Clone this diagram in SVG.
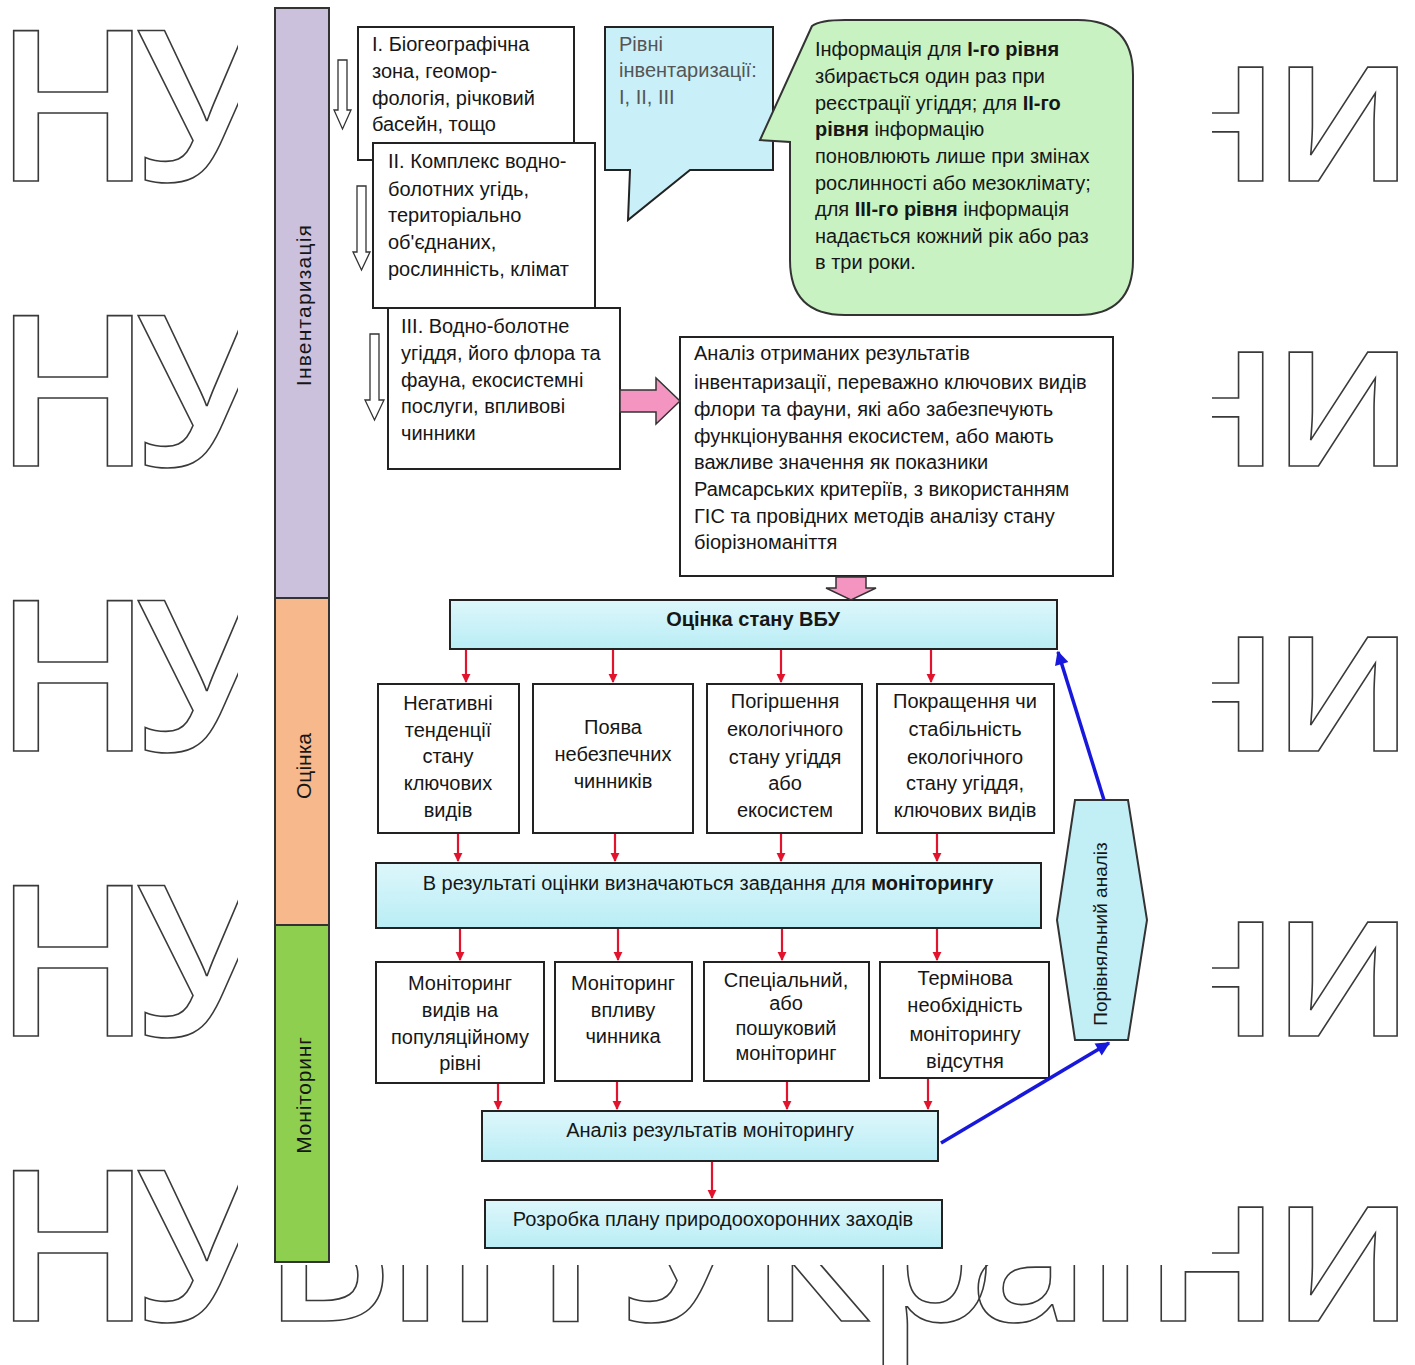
<svg xmlns="http://www.w3.org/2000/svg" width="1415" height="1365" viewBox="0 0 1415 1365">
<defs>
<style>
.wm{font-family:"Open Sans","DejaVu Sans",sans-serif;font-size:210px;font-weight:600;fill:none;stroke:#3a3a3a;stroke-width:1.6}
.box{fill:#fff;stroke:#222;stroke-width:2}
.cy{fill:url(#cyan);stroke:#222;stroke-width:2}
.t{font-family:"Liberation Sans",Arial,sans-serif;font-size:20px;fill:#161616}
.c{text-anchor:middle}
.b{font-weight:bold}
.red{stroke:#e2132c;stroke-width:2.2;fill:none;marker-end:url(#ra)}
.blue{stroke:#1818dc;stroke-width:3.5;fill:none;marker-end:url(#ba)}
.hol{fill:#fff;stroke:#333;stroke-width:1.3}
.pink{fill:#f494c0;stroke:#333;stroke-width:1.5}
</style>
<linearGradient id="cyan" x1="0" y1="0" x2="0" y2="1">
<stop offset="0" stop-color="#ddf7fb"/><stop offset="1" stop-color="#b9edf5"/>
</linearGradient>
<marker id="ra" viewBox="0 0 10 10" refX="9" refY="5" markerWidth="9" markerHeight="10" markerUnits="userSpaceOnUse" orient="auto">
<path d="M0,0 L10,5 L0,10 z" fill="#e2132c"/>
</marker>
<marker id="ba" viewBox="0 0 10 10" refX="9" refY="5" markerWidth="16" markerHeight="14" markerUnits="userSpaceOnUse" orient="auto">
<path d="M0,0 L10,5 L0,10 z" fill="#1818dc"/>
</marker>
</defs>
<rect width="1415" height="1365" fill="#fff"/>
<g id="watermark">
<text class="wm" x="-6 136" y="181">НУ</text>
<text class="wm" x="1144 1272" y="181">ни</text>
<text class="wm" x="-6 136" y="466">НУ</text>
<text class="wm" x="1144 1272" y="466">ни</text>
<text class="wm" x="-6 136" y="751">НУ</text>
<text class="wm" x="1144 1272" y="751">ни</text>
<text class="wm" x="-6 136" y="1036">НУ</text>
<text class="wm" x="1144 1272" y="1036">ни</text>
<text class="wm" x="-6 136 262 386 443 620 751 866 969 1086 1144 1272" y="1321">НУБіПУкраїни</text>
</g>
<rect x="238" y="0" width="974" height="1265" fill="#fff"/>

<g id="stage-bar">
<rect x="275" y="8" width="54" height="590" fill="#cbc1dd" stroke="#333" stroke-width="2"/>
<rect x="275" y="598" width="54" height="327" fill="#f7b88b" stroke="#333" stroke-width="2"/>
<rect x="275" y="925" width="54" height="337" fill="#8fcf50" stroke="#333" stroke-width="2"/>
<text class="t c" style="font-size:21px;letter-spacing:1.2px" transform="translate(303,305) rotate(-90)" dominant-baseline="central">Інвентаризація</text>
<text class="t c" style="font-size:21px" transform="translate(303,766) rotate(-90)" dominant-baseline="central">Оцінка</text>
<text class="t c" style="font-size:21px;letter-spacing:0.8px" transform="translate(303,1095) rotate(-90)" dominant-baseline="central">Моніторинг</text>
</g>

<g id="level-arrows">
<path class="hol" d="M338,60 H347 V110 H351 L342.5,129 L334,110 H338 Z"/>
<path class="hol" d="M357,186 H366 V252 H370 L361.5,270 L353,252 H357 Z"/>
<path class="hol" d="M370,334 H379 V400 H384 L374.5,420 L365,400 H370 Z"/>
</g>

<g id="level1">
<rect class="box" x="358" y="27" width="216" height="133"/>
<text class="t"><tspan x="372" y="51">І. Біогеографічна</tspan><tspan x="372" y="78">зона, геомор-</tspan><tspan x="372" y="105">фологія, річковий</tspan><tspan x="372" y="131">басейн, тощо</tspan></text>
</g>
<g id="level2">
<rect class="box" x="373" y="143" width="222" height="165"/>
<text class="t"><tspan x="388" y="168">ІІ. Комплекс водно-</tspan><tspan x="388" y="196">болотних угідь,</tspan><tspan x="388" y="222">територіально</tspan><tspan x="388" y="249">об'єднаних,</tspan><tspan x="388" y="276">рослинність, клімат</tspan></text>
</g>
<g id="level3">
<rect class="box" x="388" y="308" width="232" height="161"/>
<text class="t"><tspan x="401" y="333">ІІІ. Водно-болотне</tspan><tspan x="401" y="360">угіддя, його флора та</tspan><tspan x="401" y="387">фауна, екосистемні</tspan><tspan x="401" y="413">послуги, впливові</tspan><tspan x="401" y="440">чинники</tspan></text>
</g>

<g id="levels-callout">
<path d="M605,27 H773 V170 H690 L628,220 L630,170 H605 Z" fill="#c9f0f8" stroke="#222" stroke-width="2"/>
<text class="t" style="fill:#555"><tspan x="619" y="51">Рівні</tspan><tspan x="619" y="77">інвентаризації:</tspan><tspan x="619" y="104">І, ІІ, ІІІ</tspan></text>
</g>

<g id="info-bubble">
<path d="M845,20 H1078 Q1133,20 1133,75 V260 Q1133,315 1078,315 H845 Q790,315 790,260 V142 L760,140 L812,26 Q820,20 845,20 Z" fill="#c8f2c2" stroke="#333" stroke-width="2"/>
<text class="t"><tspan x="815" y="56">Інформація для <tspan class="b">І-го рівня</tspan></tspan><tspan x="815" y="83">збирається один раз при</tspan><tspan x="815" y="110">реєстрації угіддя; для <tspan class="b">ІІ-го</tspan></tspan><tspan x="815" y="136" class="b">рівня</tspan><tspan> інформацію</tspan><tspan x="815" y="163">поновлюють лише при змінах</tspan><tspan x="815" y="190">рослинності або мезоклімату;</tspan><tspan x="815" y="216">для <tspan class="b">ІІІ-го рівня</tspan> інформація</tspan><tspan x="815" y="243">надається кожний рік або раз</tspan><tspan x="815" y="269">в три роки.</tspan></text>
</g>

<g id="analysis-inventory">
<rect class="box" x="680" y="337" width="433" height="239"/>
<text class="t"><tspan x="694" y="360">Аналіз отриманих результатів</tspan><tspan x="694" y="389">інвентаризації, переважно ключових видів</tspan><tspan x="694" y="416">флори та фауни, які або забезпечують</tspan><tspan x="694" y="443">функціонування екосистем, або мають</tspan><tspan x="694" y="469">важливе значення як показники</tspan><tspan x="694" y="496">Рамсарських критеріїв, з використанням</tspan><tspan x="694" y="523">ГІС та провідних методів аналізу стану</tspan><tspan x="694" y="549">біорізноманіття</tspan></text>
</g>

<g id="assessment">
<rect class="cy" x="450" y="600" width="607" height="49"/>
<text class="t b c" x="753" y="626">Оцінка стану ВБУ</text>
</g>

<g id="a-negative">
<rect class="box" x="378" y="684" width="141" height="149"/>
<text class="t c"><tspan x="448" y="710">Негативні</tspan><tspan x="448" y="737">тенденції</tspan><tspan x="448" y="763">стану</tspan><tspan x="448" y="790">ключових</tspan><tspan x="448" y="817">видів</tspan></text>
</g>
<g id="a-danger">
<rect class="box" x="533" y="684" width="160" height="149"/>
<text class="t c"><tspan x="613" y="734">Поява</tspan><tspan x="613" y="761">небезпечних</tspan><tspan x="613" y="788">чинників</tspan></text>
</g>
<g id="a-worse">
<rect class="box" x="707" y="684" width="155" height="149"/>
<text class="t c"><tspan x="785" y="708">Погіршення</tspan><tspan x="785" y="736">екологічного</tspan><tspan x="785" y="764">стану угіддя</tspan><tspan x="785" y="790">або</tspan><tspan x="785" y="817">екосистем</tspan></text>
</g>
<g id="a-better">
<rect class="box" x="877" y="684" width="177" height="149"/>
<text class="t c"><tspan x="965" y="708">Покращення чи</tspan><tspan x="965" y="736">стабільність</tspan><tspan x="965" y="764">екологічного</tspan><tspan x="965" y="790">стану угіддя,</tspan><tspan x="965" y="817">ключових видів</tspan></text>
</g>

<g id="tasks">
<rect class="cy" x="376" y="863" width="665" height="65"/>
<text class="t c" x="708" y="890">В результаті оцінки визначаються завдання для <tspan class="b">моніторингу</tspan></text>
</g>

<g id="m-population">
<rect class="box" x="376" y="962" width="168" height="121"/>
<text class="t c"><tspan x="460" y="990">Моніторинг</tspan><tspan x="460" y="1017">видів на</tspan><tspan x="460" y="1044">популяційному</tspan><tspan x="460" y="1070">рівні</tspan></text>
</g>
<g id="m-impact">
<rect class="box" x="555" y="962" width="137" height="119"/>
<text class="t c"><tspan x="623" y="990">Моніторинг</tspan><tspan x="623" y="1017">впливу</tspan><tspan x="623" y="1043">чинника</tspan></text>
</g>
<g id="m-special">
<rect class="box" x="704" y="962" width="165" height="119"/>
<text class="t c"><tspan x="786" y="987">Спеціальний,</tspan><tspan x="786" y="1010">або</tspan><tspan x="786" y="1035">пошуковий</tspan><tspan x="786" y="1060">моніторинг</tspan></text>
</g>
<g id="m-none">
<rect class="box" x="880" y="962" width="169" height="116"/>
<text class="t c"><tspan x="965" y="985">Термінова</tspan><tspan x="965" y="1012">необхідність</tspan><tspan x="965" y="1041">моніторингу</tspan><tspan x="965" y="1068">відсутня</tspan></text>
</g>

<g id="monitoring-analysis">
<rect class="cy" x="482" y="1111" width="456" height="50"/>
<text class="t c" x="710" y="1137">Аналіз результатів моніторингу</text>
</g>
<g id="plan">
<rect class="cy" x="485" y="1200" width="457" height="48"/>
<text class="t c" x="713" y="1226">Розробка плану природоохоронних заходів</text>
</g>

<g id="comparative">
<polygon points="1075,800 1128,800 1147,920 1128,1040 1075,1040 1057,920" fill="#c2eff6" stroke="#333" stroke-width="2"/>
<text class="t c" style="font-size:19px" transform="translate(1100,934) rotate(-90)" dominant-baseline="central">Порівняльний аналіз</text>
</g>

<g id="connectors">
<path class="pink" d="M620,390 H656 V378 L680,401 L656,424 V412 H620 Z"/>
<path class="pink" d="M836,577 H866 V588 H876 L851,600 L826,588 H836 Z"/>
<line class="red" x1="466" y1="650" x2="466" y2="682"/>
<line class="red" x1="613" y1="650" x2="613" y2="682"/>
<line class="red" x1="781" y1="650" x2="781" y2="682"/>
<line class="red" x1="931" y1="650" x2="931" y2="682"/>
<line class="red" x1="458" y1="834" x2="458" y2="861"/>
<line class="red" x1="615" y1="834" x2="615" y2="861"/>
<line class="red" x1="781" y1="834" x2="781" y2="861"/>
<line class="red" x1="937" y1="834" x2="937" y2="861"/>
<line class="red" x1="460" y1="929" x2="460" y2="960"/>
<line class="red" x1="618" y1="929" x2="618" y2="960"/>
<line class="red" x1="782" y1="929" x2="782" y2="960"/>
<line class="red" x1="937" y1="929" x2="937" y2="960"/>
<line class="red" x1="498" y1="1084" x2="498" y2="1109"/>
<line class="red" x1="617" y1="1082" x2="617" y2="1109"/>
<line class="red" x1="787" y1="1082" x2="787" y2="1109"/>
<line class="red" x1="928" y1="1079" x2="928" y2="1109"/>
<line class="red" x1="712" y1="1162" x2="712" y2="1198"/>
<line class="blue" x1="941" y1="1143" x2="1109" y2="1043"/>
<line class="blue" x1="1104" y1="800" x2="1058" y2="652"/>
</g>
</svg>
